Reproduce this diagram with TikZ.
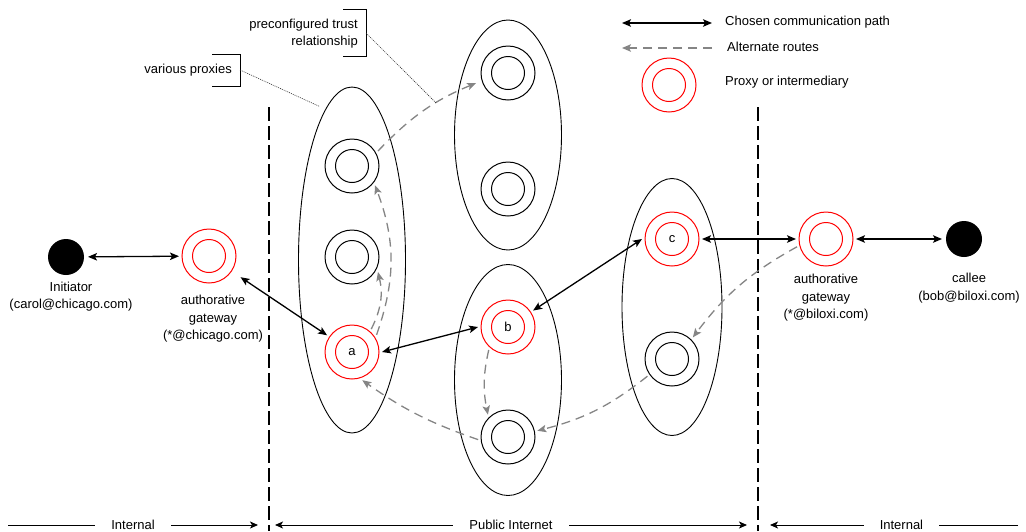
\documentclass[tikz,border=0pt]{standalone}
\usepackage{fontspec}
\setmainfont{Liberation Sans}
\usetikzlibrary{arrows.meta,shapes.geometric}
\definecolor{altgray}{HTML}{858585}

\begin{document}
\begin{tikzpicture}[x=1pt,y=-1pt,
  every node/.style={font=\fontsize{13}{17.5}\selectfont},
  tip/.tip={Stealth[length=9pt,width=7.5pt,inset=2pt]},
  smalltip/.tip={Stealth[length=8pt,width=7pt,inset=2pt]},
  grp/.style={ellipse, draw, line width=0.9pt, inner sep=0pt},
  ring/.style={circle, draw=#1, line width=1pt, minimum size=54pt, inner sep=0pt, outer sep=3pt,
    path picture={\draw[#1, line width=1pt] (path picture bounding box.center) circle[radius=16.5pt];}},
  endpt/.style={circle, fill=black, minimum size=36pt, inner sep=0pt, outer sep=4pt},
  lbl/.style={align=center, inner sep=0pt},
  txt/.style={inner sep=1pt},
  chosen/.style={line width=1.3pt, tip-tip},
  alt/.style={draw=altgray, line width=1.3pt, dash pattern=on 9pt off 6pt, -tip},
  boundary/.style={line width=1.5pt, dash pattern=on 14pt off 5pt},
  span/.style={line width=1pt},
  spanlbl/.style={fill=white, inner xsep=16pt, inner ysep=2pt},
  bracket/.style={line width=0.9pt},
  note/.style={draw=black!80, line width=0.6pt, dash pattern=on 1pt off 1pt},
]
\useasboundingbox (0,0) rectangle (1026,531);

% proxy groups
\node[grp, minimum width=107pt, minimum height=346pt] (gL) at (352,260) {};
\node[grp, minimum width=107pt, minimum height=230pt] (gT) at (508,135) {};
\node[grp, minimum width=107pt, minimum height=231pt] (gB) at (508,380) {};
\node[grp, minimum width=100pt, minimum height=257pt] (gR) at (672,307) {};

% proxies
\node[ring=black] (p1) at (352,166) {};
\node[ring=black] (p2) at (352,257) {};
\node[ring=red]   (a)  at (352,352) {a};
\node[ring=black] (q1) at (508,73) {};
\node[ring=black] (q2) at (508,189) {};
\node[ring=red]   (b)  at (508,327) {b};
\node[ring=black] (q3) at (508,437) {};
\node[ring=red]   (c)  at (672,239) {c};
\node[ring=black] (r2) at (672,359) {};

% gateways and end points
\node[ring=red] (gwc) at (209,256) {};
\node[ring=red] (gwb) at (826,239) {};
\node[endpt] (init) at (66,257) {};
\node[endpt] (callee) at (964,239) {};

\node[lbl] (initlbl) at (71,296.5) {Initiator\\(carol@chicago.com)};
\node[lbl] (gwclbl) at (213,319) {authorative\\gateway\\(*@chicago.com)};
\node[lbl] (gwblbl) at (826,298) {authorative\\gateway\\(*@biloxi.com)};
\node[lbl] (calleelbl) at (969,288) {callee\\(bob@biloxi.com)};

% network boundaries
\coordinate (bL0) at (269,107); \coordinate (bL1) at (269,531);
\coordinate (bR0) at (758,107); \coordinate (bR1) at (758,531);
\draw[boundary] (bL0) -- (bL1);
\draw[boundary] (bR0) -- (bR1);

% chosen communication path
\draw[chosen] (init) -- (gwc);
\draw[chosen, shorten <=8pt] (gwc) -- (a);
\draw[chosen] (a.east) -- (b.west);
\draw[chosen] (b) -- (c.west);
\draw[chosen] (c) -- (gwb);
\draw[chosen] (gwb) -- (callee);

% alternate routes
\draw[alt] (a.35) to[bend right=20] (p1.-40);
\draw[alt] (a.50) to[bend right=20] (p2.-30);
\draw[alt, shorten >=3.5pt] (p1.30) to[bend left=12] coordinate[pos=0.62] (trust) (q1.197);
\draw[alt] (b.230) to[bend right=12] (q3.132);
\draw[alt] (gwb.195) to[bend right=12] (r2.46);
\draw[alt] (r2.215) to[bend left=12] (q3.12);
\draw[alt] (q3.185) to[bend left=8] (a.-70);

% annotations
\node[txt, anchor=east] (vp) at (233,70) {various proxies};
\draw[bracket] (212,54) -- (240,54) -- (240,86) -- (212,86);
\coordinate (vpk) at (240,70);
\draw[note, shorten >=7pt] (vpk) -- (gL.100);

\node[txt, anchor=east, align=right] (tr) at (359,33.5) {preconfigured trust\\relationship};
\draw[bracket] (343,9) -- (366,9) -- (366,56) -- (343,56);
\coordinate (trk) at (366,33);
\draw[note] (trk) -- (trust);

% legend
\coordinate (lg1a) at (622,23); \coordinate (lg1b) at (712,23);
\draw[chosen] (lg1a) -- (lg1b);
\node[txt, anchor=west] (lt1) at (724,22) {Chosen communication path};
\coordinate (lg2a) at (712,48); \coordinate (lg2b) at (622,48);
\draw[alt] (lg2a) -- (lg2b);
\node[txt, anchor=west] (lt2) at (726,47) {Alternate routes};
\node[ring=red] (lg3) at (669,85) {};
\node[txt, anchor=west] (lt3) at (724,82) {Proxy or intermediary};

% zone spans
\coordinate (iL0) at (8,525); \coordinate (iL1) at (258,525);
\coordinate (pi0) at (275,525); \coordinate (pi1) at (747,525);
\coordinate (iR0) at (1018,525); \coordinate (iR1) at (770,525);
\draw[span, -smalltip] (iL0) -- (iL1) node[midway, spanlbl] (z1) {Internal};
\draw[span, smalltip-smalltip] (pi0) -- (pi1) node[midway, spanlbl] (z2) {Public Internet};
\draw[span, -smalltip] (iR0) -- (iR1) node[pos=0.47, spanlbl] (z3) {Internal};
\end{tikzpicture}
\end{document}
